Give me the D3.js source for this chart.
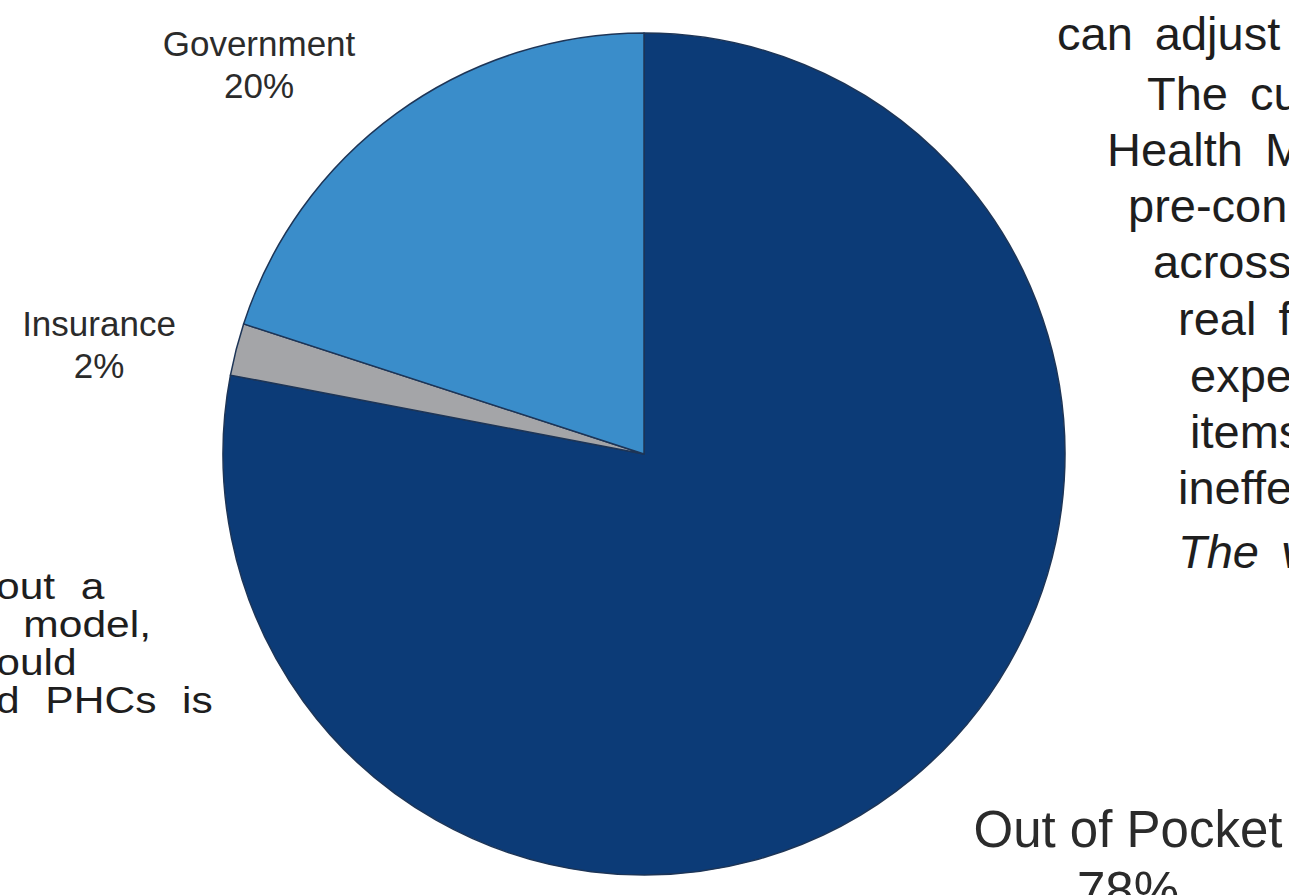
<!DOCTYPE html>
<html>
<head>
<meta charset="utf-8">
<script src="https://cdn.jsdelivr.net/npm/d3@7"></script>
<style>
  html, body { margin: 0; padding: 0; background: #fff; overflow: hidden; }
  #chart { width: 1289px; height: 895px; }
  text { font-family: "Liberation Sans", Arial, Helvetica, sans-serif; }
</style>
</head>
<body>
<div id="chart"></div>
<script>
// slice values
const categories = ["Out of Pocket", "Insurance", "Government"];
const shares = [78, 2, 20];
const sliceColors = ["#0c3b77", "#a4a5a8", "#3a8dca"];

// page text that shows round the chart (cut off by the crop)
const rightLines = ["can adjust", "The cu", "Health M", "pre-con", "across", "real f", "expe", "items", "ineffe", "The v"];
const leftLines = ["bout a", " model,", "would", "nd PHCs is"];

// layout
const width = 1289, height = 895;
const cx = 644, cy = 454, radius = 421;

const svg = d3.select("#chart").append("svg")
    .attr("width", width)
    .attr("height", height);

const data = categories.map((c, i) => ({name: c, value: shares[i], color: sliceColors[i]}));

const pie = d3.pie()
    .sort(null)
    .value(d => d.value);

const arc = d3.arc()
    .innerRadius(0)
    .outerRadius(radius);

const g = svg.append("g")
    .attr("transform", `translate(${cx},${cy})`);

g.selectAll("path")
    .data(pie(data))
    .enter()
    .append("path")
    .attr("d", arc)
    .attr("fill", d => d.data.color)
    .attr("stroke", "#1d3557")
    .attr("stroke-width", 1.5)
    .attr("stroke-linejoin", "round");

// slice labels
const labelPos = {
    "Government": {x: 259, y: 56, size: 35},
    "Insurance": {x: 99, y: 336, size: 35},
    "Out of Pocket": {x: 1128, y: 847, size: 51}
};

data.forEach(d => {
    const p = labelPos[d.name];
    const t = svg.append("text")
        .attr("text-anchor", "middle")
        .attr("fill", "#2b2b2b")
        .style("font-size", p.size + "px");
    t.append("tspan").attr("x", p.x).attr("y", p.y).text(d.name);
    t.append("tspan").attr("x", p.x).attr("dy", p.size * 1.2).text(d.value + "%");
});

// right column text
const rightX = [1057, 1147, 1107, 1128, 1153, 1178, 1190, 1190, 1178, 1178];
const rightY = [50, 110, 166, 222, 278, 335, 392, 448, 504, 568];
svg.append("g").selectAll("text")
    .data(rightLines)
    .enter()
    .append("text")
    .attr("x", (d, i) => rightX[i])
    .attr("y", (d, i) => rightY[i])
    .attr("fill", "#1e1e1e")
    .style("font-size", "47px")
    .style("font-style", (d, i) => i === rightLines.length - 1 ? "italic" : "normal")
    .style("word-spacing", "9px")
    .text(d => d);

// left column text
const leftX = [-24, -2, -30, -24];
const leftY = [599, 637, 675, 713];
svg.append("g")
    .attr("transform", "scale(1.15,1)")
    .selectAll("text")
    .data(leftLines)
    .enter()
    .append("text")
    .attr("x", (d, i) => leftX[i])
    .attr("y", (d, i) => leftY[i])
    .attr("fill", "#1e1e1e")
    .style("font-size", "37px")
    .style("word-spacing", "12px")
    .attr("xml:space", "preserve")
    .text(d => d);
</script>
</body>
</html>
